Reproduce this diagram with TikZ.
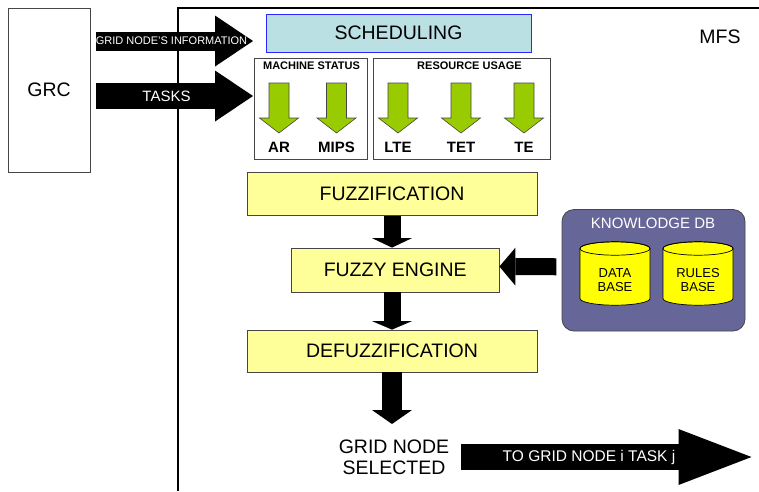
\documentclass[tikz,border=0pt]{standalone}
\usepackage{fontspec}
\setmainfont{Liberation Sans}
\usepackage{tikz}
\usetikzlibrary{arrows.meta}

\definecolor{schedfill}{RGB}{187,224,227}
\definecolor{schedline}{RGB}{40,40,255}
\definecolor{fuzzyellow}{RGB}{255,255,153}
\definecolor{boxline}{RGB}{70,70,70}
\definecolor{arrgreen}{RGB}{153,204,0}
\definecolor{kdbfill}{RGB}{102,102,153}
\definecolor{cylyellow}{RGB}{255,255,0}

\begin{document}
\begin{tikzpicture}[x=1pt, y=-1pt,
    every node/.style={inner sep=0pt},
    bigtxt/.style={font=\fontsize{19.5}{21}\selectfont},
    midtxt/.style={font=\fontsize{15}{16}\selectfont},
    ttl/.style={font=\fontsize{11}{12}\selectfont\bfseries},
    lbl/.style={font=\fontsize{15}{16}\selectfont\bfseries},
    arrtxt/.style={text=white},
    box/.style={draw=boxline, line width=0.8pt, fill=fuzzyellow},
    panel/.style={draw=boxline, line width=0.8pt, fill=white},
    grn/.style={draw=boxline, line width=0.6pt, fill=arrgreen},
    cyl/.style={draw=black, line width=0.7pt, fill=cylyellow},
    blk/.style n args={3}{draw=black, line width=#1, -{Triangle[width=#2, length=#3, line width=0pt]}}]
   \useasboundingbox (0,0) rectangle (759,491);

   \node[draw=boxline, line width=0.8pt, minimum width=82pt, minimum height=164pt, bigtxt] (grc) at (49,90) {GRC};
   \draw[line width=1.5pt] (178,491) -- (178,8) -- (759,8);
   \node[bigtxt] (mfs) at (720,37) {MFS};

   \node[draw=schedline, line width=0.8pt, fill=schedfill, minimum width=265pt, minimum height=38pt, bigtxt] (sched) at (398.5,33) {SCHEDULING};

   \node[panel, minimum width=113pt, minimum height=101pt] (ms) at (310.5,108.5) {};
   \node[panel, minimum width=177pt, minimum height=101pt] (ru) at (461.5,108.5) {};
   \node[ttl] (mst) at (311.5,66) {MACHINE STATUS};
   \node[ttl] (rut) at (469.5,66) {RESOURCE USAGE};

   \filldraw[grn] (269,83) -- (289,83) -- (289,118) -- (298.5,118) -- (279,133) -- (259.5,118) -- (269,118) -- cycle;
   \filldraw[grn] (326.5,83) -- (346.5,83) -- (346.5,118) -- (356,118) -- (336.5,133) -- (317,118) -- (326.5,118) -- cycle;
   \filldraw[grn] (388,83) -- (408,83) -- (408,118) -- (417.5,118) -- (398,133) -- (378.5,118) -- (388,118) -- cycle;
   \filldraw[grn] (451,83) -- (471,83) -- (471,118) -- (480.5,118) -- (461,133) -- (441.5,118) -- (451,118) -- cycle;
   \filldraw[grn] (514,83) -- (534,83) -- (534,118) -- (543.5,118) -- (524,133) -- (504.5,118) -- (514,118) -- cycle;
   \node[lbl] (ar) at (279,147) {AR};
   \node[lbl] (mips) at (336.5,147) {MIPS};
   \node[lbl] (lte) at (398,147) {LTE};
   \node[lbl] (tet) at (461,147) {TET};
   \node[lbl] (te) at (524,147) {TE};

   \coordinate (infos) at (96,41);
   \coordinate (infoe) at (253,41);
   \draw[blk={19pt}{51pt}{38pt}] (infos) -- (infoe);
   \node[arrtxt, font=\fontsize{11}{12}\selectfont] (info) at (171.5,41) {GRID NODE’S INFORMATION};

   \coordinate (tasks) at (96,96);
   \coordinate (taske) at (253,96);
   \draw[blk={26pt}{51pt}{38pt}] (tasks) -- (taske);
   \node[arrtxt, midtxt] (task) at (166.5,96) {TASKS};

   \node[box, minimum width=290pt, minimum height=43.5pt, bigtxt] (fuzz) at (392,193.75) {FUZZIFICATION};
   \node[box, minimum width=207.5pt, minimum height=44pt, bigtxt] (engine) at (395.25,270) {FUZZY ENGINE};
   \node[box, minimum width=290pt, minimum height=42pt, bigtxt] (defuzz) at (392,351) {DEFUZZIFICATION};

   \draw[blk={17pt}{40pt}{9.5pt}] (fuzz.south) -- (fuzz.south |- engine.north);
   \draw[blk={17pt}{40pt}{8.5pt}] (fuzz.south |- engine.south) -- (fuzz.south |- defuzz.north);

   \node[draw=boxline, line width=0.8pt, fill=kdbfill, rounded corners=12pt, minimum width=183pt, minimum height=121.5pt] (kdb) at (653.5,270.25) {};
   \node[text=white, midtxt] (kdbt) at (653,223) {KNOWLODGE DB};

   \filldraw[cyl] (580,248.5) -- (580,298.5) arc[start angle=180, end angle=360, x radius=35pt, y radius=6.7pt] -- (650,248.5) arc[start angle=0, end angle=180, x radius=35pt, y radius=6.7pt] -- cycle;
   \draw[cyl, fill=none] (615,248.5) ellipse[x radius=35pt, y radius=6.7pt];
   \filldraw[cyl] (663,248.5) -- (663,298.5) arc[start angle=180, end angle=360, x radius=35pt, y radius=6.7pt] -- (733,248.5) arc[start angle=0, end angle=180, x radius=35pt, y radius=6.7pt] -- cycle;
   \draw[cyl, fill=none] (698,248.5) ellipse[x radius=35pt, y radius=6.7pt];
   \node[font=\fontsize{13}{14}\selectfont, align=center] (data) at (615,280) {DATA\\BASE};
   \node[font=\fontsize{13}{14}\selectfont, align=center] (rules) at (698,280) {RULES\\BASE};

   \draw[blk={17pt}{38pt}{16pt}] ([xshift=-5.3pt, yshift=3.5pt]kdb.west) -- ([yshift=3.5pt]engine.east);

   \node[bigtxt, align=center] (sel) at (394,457.5) {GRID NODE\\SELECTED};
   \coordinate (selin) at (392,424);
   \draw[blk={20pt}{40pt}{14pt}] (defuzz.south) -- (selin);

   \coordinate (outs) at (461,457);
   \coordinate (oute) at (751.5,457);
   \draw[blk={26pt}{56pt}{73pt}] (outs) -- (oute);
   \node[arrtxt, font=\fontsize{15.5}{16}\selectfont] (out) at (589,457) {TO GRID NODE i TASK j};
  \end{tikzpicture}
\end{document}
